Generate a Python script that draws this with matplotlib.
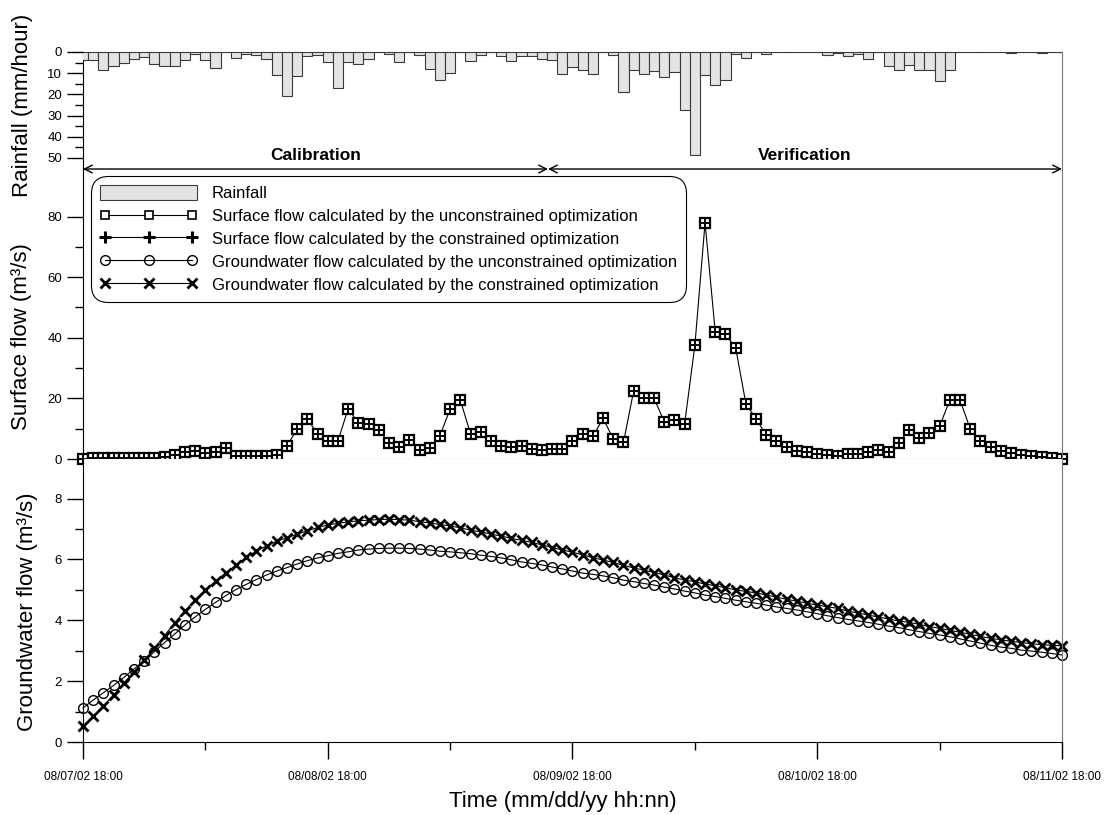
import numpy as np
import matplotlib.pyplot as plt
import matplotlib.transforms as mtransforms
from matplotlib.lines import Line2D
from matplotlib.patches import Patch

plt.rcParams['font.family'] = ['Liberation Sans', 'DejaVu Sans']

# hourly time steps from 08/07/02 18:00 to 08/11/02 18:00
hours = np.arange(97)

rainfall = [3.9, 3.9, 8.3, 6.4, 5.2, 3.3, 2.5, 5.5, 6.4, 6.4,
            3.6, 0.8, 3.6, 7.5, 0.0, 2.8, 0.9, 1.6, 3.1, 10.7,
            20.6, 11.5, 2.0, 1.6, 4.7, 17.0, 4.7, 5.5, 3.3, 0.0,
            0.8, 4.7, 0.0, 1.6, 7.9, 13.1, 9.9, 0.0, 4.1, 1.3,
            0.0, 2.0, 4.1, 2.0, 2.0, 3.1, 3.9, 10.5, 7.1, 8.3,
            10.6, 0.0, 1.3, 18.8, 8.7, 10.3, 9.0, 11.6, 9.5, 27.4,
            48.5, 10.9, 15.5, 13.1, 0.8, 2.9, 0.0, 1.0, 0.0, 0.0,
            0.0, 0.0, 0.0, 1.3, 0.5, 1.8, 1.0, 3.1, 0.0, 6.7,
            8.3, 6.2, 8.3, 8.3, 13.9, 8.7, 0.0, 0.0, 0.0, 0.0,
            0.0, 0.5, 0.0, 0.0, 0.5, 0.0, 0.0]

surface_unc = [0.0, 0.2, 0.2, 0.3, 0.3, 0.2, 0.2, 0.2, 0.8, 1.3,
               2.4, 2.5, 2.0, 2.4, 3.6, 0.9, 1.1, 1.0, 1.0, 1.4,
               4.3, 9.9, 13.2, 8.3, 6.1, 5.9, 16.6, 11.9, 11.7, 9.7,
               5.3, 4.1, 6.2, 3.1, 3.6, 7.7, 16.5, 19.4, 8.4, 8.9,
               6.1, 4.2, 3.9, 4.2, 3.3, 2.9, 3.4, 3.2, 5.9, 8.3,
               7.5, 13.4, 6.6, 5.5, 22.5, 20.0, 20.0, 12.3, 12.8, 11.7,
               37.5, 78.0, 41.8, 41.1, 36.7, 18.3, 13.2, 7.9, 5.9, 4.0,
               2.8, 2.2, 1.6, 1.3, 1.1, 1.7, 1.7, 2.2, 2.9, 2.2,
               5.3, 9.7, 6.9, 8.6, 10.8, 19.5, 19.5, 9.9, 6.1, 3.9,
               2.5, 2.0, 1.4, 0.9, 0.7, 0.3, 0.1]

surface_con = [0.0, 0.2, 0.2, 0.3, 0.3, 0.2, 0.2, 0.2, 0.8, 1.3,
               2.4, 2.5, 2.0, 2.4, 3.6, 0.9, 1.1, 1.0, 1.0, 1.4,
               4.3, 9.9, 13.2, 8.3, 6.1, 5.9, 16.6, 11.9, 11.7, 9.7,
               5.3, 4.1, 6.2, 3.1, 3.6, 7.7, 16.5, 19.4, 8.4, 8.9,
               6.1, 4.2, 3.9, 4.2, 3.3, 2.9, 3.4, 3.2, 5.9, 8.3,
               7.5, 13.4, 6.6, 5.5, 22.5, 20.0, 20.0, 12.3, 12.8, 11.7,
               37.5, 78.0, 41.8, 41.1, 36.7, 18.3, 13.2, 7.9, 5.9, 4.0,
               2.8, 2.2, 1.6, 1.3, 1.1, 1.7, 1.7, 2.2, 2.9, 2.2,
               5.3, 9.7, 6.9, 8.6, 10.8, 19.5, 19.5, 9.9, 6.1, 3.9,
               2.5, 2.0, 1.4, 0.9, 0.7, 0.3, 0.1]

gw_unc = [1.12, 1.38, 1.62, 1.86, 2.12, 2.40, 2.67, 2.97, 3.27, 3.55,
          3.85, 4.11, 4.36, 4.59, 4.81, 5.01, 5.18, 5.34, 5.49, 5.62,
          5.73, 5.85, 5.96, 6.05, 6.12, 6.20, 6.25, 6.31, 6.34, 6.36,
          6.37, 6.37, 6.36, 6.34, 6.31, 6.27, 6.25, 6.22, 6.19, 6.14,
          6.10, 6.05, 5.99, 5.92, 5.87, 5.82, 5.75, 5.69, 5.62, 5.55,
          5.51, 5.46, 5.40, 5.32, 5.27, 5.21, 5.16, 5.09, 5.03, 4.96,
          4.90, 4.83, 4.78, 4.72, 4.66, 4.61, 4.56, 4.50, 4.44, 4.39,
          4.34, 4.28, 4.22, 4.15, 4.09, 4.03, 3.98, 3.93, 3.87, 3.81,
          3.76, 3.69, 3.63, 3.57, 3.52, 3.46, 3.39, 3.32, 3.25, 3.18,
          3.12, 3.08, 3.02, 2.99, 2.95, 2.91, 2.86]

gw_con = [0.52, 0.84, 1.18, 1.55, 1.93, 2.30, 2.68, 3.08, 3.50, 3.92,
          4.31, 4.67, 4.99, 5.29, 5.56, 5.81, 6.07, 6.27, 6.45, 6.60,
          6.71, 6.83, 6.94, 7.05, 7.13, 7.19, 7.23, 7.27, 7.29, 7.31,
          7.32, 7.31, 7.29, 7.24, 7.20, 7.15, 7.10, 7.04, 6.96, 6.91,
          6.83, 6.77, 6.69, 6.63, 6.56, 6.48, 6.39, 6.31, 6.24, 6.15,
          6.06, 5.98, 5.90, 5.81, 5.72, 5.65, 5.57, 5.49, 5.40, 5.32,
          5.27, 5.19, 5.14, 5.07, 5.00, 4.95, 4.90, 4.83, 4.76, 4.69,
          4.63, 4.56, 4.50, 4.45, 4.39, 4.30, 4.24, 4.17, 4.11, 4.04,
          3.98, 3.93, 3.87, 3.79, 3.74, 3.67, 3.61, 3.54, 3.47, 3.41,
          3.36, 3.31, 3.27, 3.23, 3.20, 3.18, 3.16]

xtick_pos = [0, 24, 48, 72, 96]
xtick_labels = ['08/07/02 18:00', '08/08/02 18:00', '08/09/02 18:00',
                '08/10/02 18:00', '08/11/02 18:00']
split_hour = 45.6

fig = plt.figure(figsize=(11.11, 8.15), dpi=100)
ax1 = fig.add_axes([0.0747, 0.4368, 0.8812, 0.4994])
ax3 = fig.add_axes([0.0747, 0.0895, 0.8812, 0.3473])
ax2 = ax1.twinx()

# rainfall on top, inverted axis
ax2.bar(hours, rainfall, width=1.0, color='#e4e4e4', edgecolor='#3a3a3a', linewidth=0.8)
ax2.set_ylim(192, 0)
ax2.set_yticks(range(0, 51, 10))
ax2.set_yticks(range(0, 51, 5), minor=True)
ax2.yaxis.tick_left()
for s in ax2.spines.values():
    s.set_visible(False)

# surface flow
ax1.plot(hours, surface_unc, color='k', lw=0.8, marker='s', ms=7, mfc='white', mec='k', mew=1.6, clip_on=False)
ax1.plot(hours, surface_con, color='k', lw=0.8, marker='+', ms=6.5, mew=1.4, ls='none', clip_on=False)
ax1.set_xlim(0, 96)
ax1.set_ylim(0, 134.3)
ax1.set_yticks([0, 20, 40, 60, 80])
ax1.set_yticks([10, 30, 50, 70], minor=True)
ax1.tick_params(axis='x', which='both', bottom=False, labelbottom=False)
ax2.tick_params(axis='x', which='both', bottom=False, top=False, labelbottom=False)

# groundwater flow
ax3.plot(hours, gw_unc, color='k', lw=0.8, marker='o', ms=7, mfc='none', mec='k', mew=1, clip_on=False)
ax3.plot(hours, gw_con, color='k', lw=0.8, marker='x', ms=6.5, mew=2, clip_on=False)
ax3.set_xlim(0, 96)
ax3.set_ylim(0, 9.3)
ax3.set_yticks([0, 2, 4, 6, 8])
ax3.set_yticks([1, 3, 5, 7], minor=True)
ax3.set_xticks(xtick_pos)
ax3.set_xticklabels(xtick_labels)
ax3.set_xticks([12, 36, 60, 84], minor=True)
ax3.tick_params(axis='x', which='major', length=12, width=1, labelsize=8.5, pad=9)
ax3.tick_params(axis='x', which='minor', length=6, width=1)

for a in (ax1, ax2, ax3):
    a.tick_params(axis='y', which='major', length=11.5, width=1, labelsize=9.5, direction='out')
    a.tick_params(axis='y', which='minor', length=5.8, width=1, direction='out')

ax1.spines['top'].set_color('#777777')
ax1.spines['right'].set_color('#777777')
ax1.spines['bottom'].set_color('#888888')
ax3.spines['top'].set_visible(False)
ax3.spines['right'].set_color('#777777')

# calibration / verification arrows
trans = mtransforms.blended_transform_factory(ax1.transData, ax1.transAxes)
arrow = dict(arrowstyle='<->', color='k', lw=1, shrinkA=0, shrinkB=0, mutation_scale=14)
ax2.annotate('', xy=(0, 0.7125), xytext=(split_hour, 0.7125), xycoords=trans, textcoords=trans, arrowprops=arrow)
ax2.annotate('', xy=(split_hour, 0.7125), xytext=(96, 0.7125), xycoords=trans, textcoords=trans, arrowprops=arrow)
ax2.text(split_hour / 2, 0.727, 'Calibration', transform=trans, ha='center', va='bottom', fontsize=12.5, fontweight='bold')
ax2.text((split_hour + 96) / 2, 0.727, 'Verification', transform=trans, ha='center', va='bottom', fontsize=12.5, fontweight='bold')

# legend
handles = [Patch(facecolor='#e4e4e4', edgecolor='#3a3a3a', lw=0.8),
           Line2D([], [], color='k', lw=0.8, marker='s', ms=6, mfc='white', mec='k', mew=1.2),
           Line2D([], [], color='k', lw=0.8, marker='+', ms=8, mew=2.2),
           Line2D([], [], color='k', lw=0.8, marker='o', ms=7, mfc='none', mec='k', mew=1),
           Line2D([], [], color='k', lw=0.8, marker='x', ms=6.5, mew=2)]
labels = ['Rainfall',
          'Surface flow calculated by the unconstrained optimization',
          'Surface flow calculated by the constrained optimization',
          'Groundwater flow calculated by the unconstrained optimization',
          'Groundwater flow calculated by the constrained optimization']
leg = ax2.legend(handles, labels, loc='upper left', bbox_to_anchor=(91 / 1111, 1 - 176 / 815),
                 bbox_transform=fig.transFigure, borderaxespad=0, fontsize=12, numpoints=3,
                 handlelength=5.8, handleheight=1.0, handletextpad=0.9, labelspacing=0.4,
                 fancybox=True, edgecolor='k', framealpha=1, borderpad=0.55)
leg.get_frame().set_linewidth(0.8)
leg.get_frame().set_boxstyle('round', pad=0.0, rounding_size=1.0)

# axis titles
fig.text(23 / 1111, 1 - 105 / 815, 'Rainfall (mm/hour)', rotation=90, ha='center', va='center', fontsize=16)
fig.text(22 / 1111, 1 - 337 / 815, 'Surface flow (m³/s)', rotation=90, ha='center', va='center', fontsize=16)
fig.text(28 / 1111, 1 - 612 / 815, 'Groundwater flow (m³/s)', rotation=90, ha='center', va='center', fontsize=16)
fig.text(0.507, 1 - 802 / 815, 'Time (mm/dd/yy hh:nn)', ha='center', va='center', fontsize=16)

fig.savefig('out.png', dpi=100)
